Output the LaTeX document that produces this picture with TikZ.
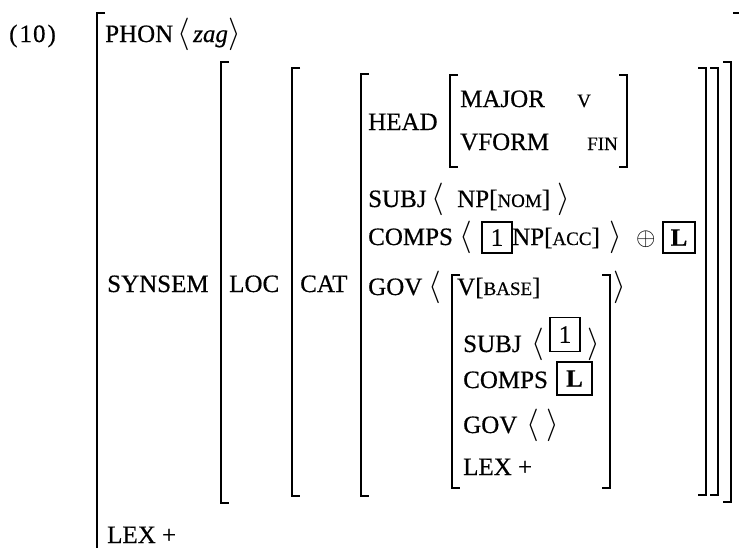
\RequirePackage{fix-cm}
\documentclass[tikz,border=0pt]{standalone}
\usepackage{fontspec}
\setmainfont{Liberation Serif}[FakeBold=0.5]
% small capitals, faked with reduced-size capitals
\newcommand\avmsc[1]{{\fontsize{19}{22}\selectfont #1}}
% list delimiters
\newcommand\avmla{\scalebox{1.3}{$\langle$}}
\newcommand\avmra{\scalebox{1.3}{$\rangle$}}
\newcommand\avmlb[4]{\draw[brk] (#1+8,#2) -- (#1,#2) -- (#1,#3) -- (#1+8,#3);}
\newcommand\avmrb[4]{\draw[brk] (#1-8,#2) -- (#1,#2) -- (#1,#3) -- (#1-8,#3);}
\begin{document}
\begin{tikzpicture}[x=1pt,y=-1pt,
  lbl/.style={anchor=base west, inner sep=0pt, font=\fontsize{25}{30}\selectfont},
  brk/.style={line width=2.4pt, line cap=butt, line join=miter},
  tagbox/.style={draw, line width=1.5pt, inner sep=0pt, font=\fontsize{25}{30}\selectfont},
]
\useasboundingbox (0,0) rectangle (739,547);
\clip (0,0) rectangle (739,547);

% outermost brackets
\draw[brk] (105,13) -- (97,13) -- (97,560);
\draw[brk] (733,13) -- (741,13) -- (741,560);

% nested brackets: SYNSEM value, LOC value, CAT value
\avmlb{221}{62}{503}{}
\avmrb{731}{62}{502}{}
\avmlb{292}{68}{496}{}
\avmrb{718}{68}{495}{}
\avmlb{361}{74}{496}{}
\avmrb{706}{68}{495}{}
% HEAD value
\avmlb{450}{75}{167}{}
\avmrb{627}{75}{167}{}
% GOV element
\avmlb{452}{275}{488}{}
\avmrb{610}{275}{488}{}

% top level
\node[lbl] (ex) at (9,42) {(\kern2pt1\kern1pt0\kern2pt)};
\node[lbl] (phon) at (105,42) {PHON};
\node[lbl] (phonl) at (177,42) {\avmla};
\node[lbl] (zag) at (193,42) {\textit{zag}};
\node[lbl] (phonr) at (228,42) {\avmra};
\node[lbl] (synsem) at (107,292) {SYNSEM};
\node[lbl] (loc) at (229,292) {LOC};
\node[lbl] (cat) at (300,292) {CAT};
\node[lbl] (lex) at (107,543) {LEX +};

% CAT value
\node[lbl] (head) at (368,130) {HEAD};
\node[lbl] (major) at (460,107) {MAJOR};
\node[lbl] (majv) at (577,107) {\avmsc{V}};
\node[lbl] (vform) at (460,150) {VFORM};
\node[lbl] (fin) at (587,150) {\avmsc{FIN}};

\node[lbl] (subj) at (368,207) {SUBJ};
\node[lbl] (subjl) at (431,207) {\avmla};
\node[lbl] (np) at (457,207) {NP[\avmsc{NOM}]};
\node[lbl] (subjr) at (557,207) {\avmra};

\node[lbl] (comps) at (368,245) {COMPS};
\node[lbl] (compsl) at (459,245) {\avmla};
\node[tagbox, minimum width=30pt, minimum height=31pt] (one) at (497,237.5) {1};
\node[lbl] (npacc) at (512,245) {NP[\avmsc{ACC}]};
\node[lbl] (compsr) at (609,245) {\avmra};
\node[lbl] (plus) at (636,245) {$\oplus$};
\node[tagbox, minimum width=32pt, minimum height=31pt] (tagl) at (679,237.5) {\textbf{L}};

\node[lbl] (gov) at (368,295) {GOV};
\node[lbl] (govl) at (428,295) {\avmla};
\node[lbl] (vbase) at (457,295) {V[\avmsc{BASE}]};
\node[lbl] (govr) at (613,295) {\avmra};

% GOV element
\node[lbl] (isubj) at (463,352) {SUBJ};
\node[lbl] (isubjl) at (531,352) {\avmla};
\node[tagbox, minimum width=30pt, minimum height=34pt] (ione) at (565,334.5) {1};
\node[lbl] (isubjr) at (587,352) {\avmra};
\node[lbl] (icomps) at (463,388) {COMPS};
\node[tagbox, minimum width=35pt, minimum height=33pt] (itagl) at (574.5,378.5) {\textbf{L}};
\node[lbl] (igov) at (463,433) {GOV};
\node[lbl] (igovl) at (526,433) {\avmla};
\node[lbl] (igovr) at (546,433) {\avmra};
\node[lbl] (ilex) at (463,475) {LEX +};
\end{tikzpicture}
\end{document}
